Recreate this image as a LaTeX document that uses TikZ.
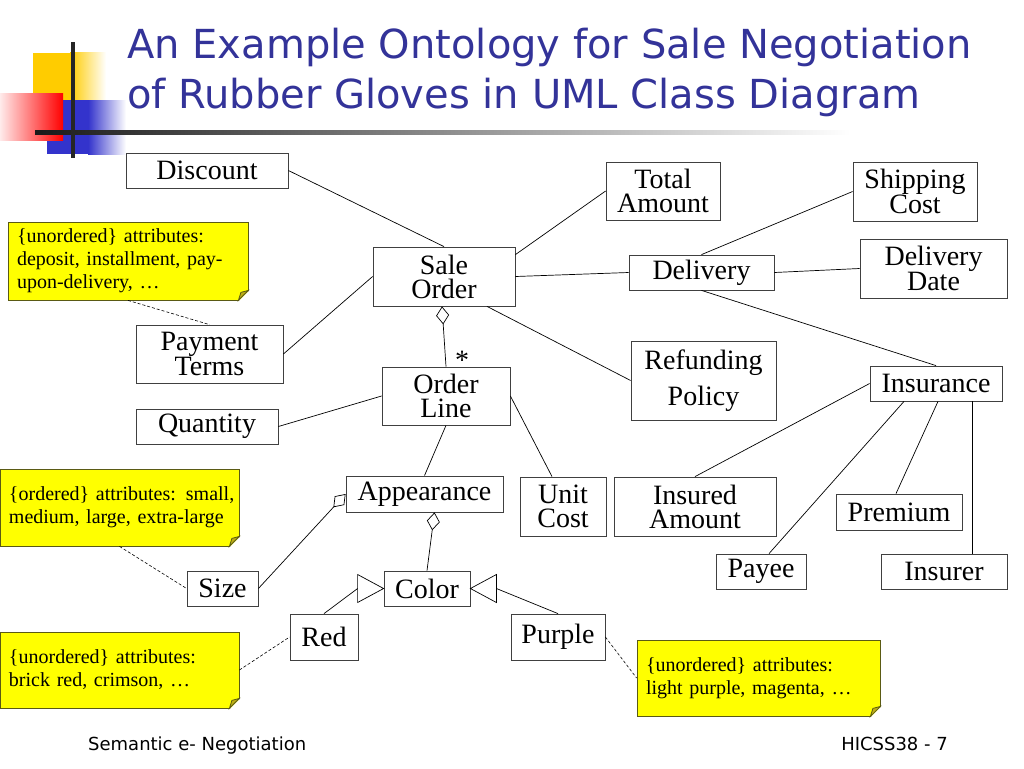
\documentclass[tikz,border=0pt]{standalone}
\usepackage{fontspec}
\setmainfont{Liberation Serif}
\newfontfamily\titlefont{DejaVu Sans}
\usetikzlibrary{arrows.meta}

\definecolor{titleblue}{RGB}{51,51,153}
\definecolor{noteyel}{RGB}{255,255,0}
\definecolor{notebrd}{RGB}{90,90,20}
\definecolor{notefold}{RGB}{190,175,20}
\definecolor{logoyel}{RGB}{255,204,0}
\definecolor{logoblue}{RGB}{51,51,204}

\begin{document}
\begin{tikzpicture}[x=1pt,y=-1pt,
  cls/.style={draw=black!75,line width=0.8pt,inner sep=0pt,align=center,font=\fontsize{28}{24}\selectfont},
  note/.style={draw=notebrd,fill=noteyel,line width=0.8pt,inner xsep=9pt,inner ysep=0pt,align=left,font=\fontsize{20}{23}\selectfont},
  titletext/.style={text=titleblue,inner sep=0pt,font=\titlefont\fontsize{40}{48}\selectfont},
  foot/.style={inner sep=0pt,font=\titlefont\fontsize{18}{20}\selectfont},
  link/.style={line width=0.7pt},
  dep/.style={line width=0.6pt,dash pattern=on 3pt off 2pt},
  aggr/.style={{Diamond[open,length=18pt,width=13pt]}-,line width=0.7pt},
  gen/.style={draw,fill=white,line width=0.7pt}]
% page
\fill[white] (0,0) rectangle (1024,768);
\useasboundingbox (0,0) rectangle (1024,768);

% logo
\fill[logoyel] (33,53) rectangle (70,102);
\shade[left color=logoyel,right color=white] (70,53) rectangle (106,102);
\fill[logoblue] (47,100) rectangle (88,154);
\shade[left color=logoblue,right color=white] (88,100) rectangle (126,154);
\shade[left color=red!8,right color=red] (0,93) rectangle (63,140);
\shade[left color=black!90,right color=white] (35,130) rectangle (850,134);
\fill[black!85] (71,42) rectangle (75,158);

% title
\node[titletext,anchor=base west] (title1) at (127,59) {An Example Ontology for Sale Negotiation};
\node[titletext,anchor=base west] (title2) at (127,108) {of Rubber Gloves in UML Class Diagram};

% classes
\node[cls,minimum width=162pt,minimum height=35pt] (discount) at (207,170.5) {Discount};
\node[cls,minimum width=114pt,minimum height=58pt] (totalamount) at (663,191) {Total\\Amount};
\node[cls,minimum width=124pt,minimum height=59pt] (shipping) at (915,191.5) {Shipping\\Cost};
\node[cls,minimum width=142pt,minimum height=59pt] (saleorder) at (444,276.5) {Sale\\Order};
\node[cls,minimum width=145pt,minimum height=35pt] (delivery) at (701.5,272.5) {Delivery};
\node[cls,minimum width=147pt,minimum height=59pt] (deliverydate) at (933.5,268.5) {Delivery\\Date};
\node[cls,minimum width=147pt,minimum height=58pt] (paymentterms) at (209.5,354) {Payment\\Terms};
\node[cls,minimum width=128pt,minimum height=58pt] (orderline) at (446,396) {Order\\Line};
\node[cls,minimum width=145pt,minimum height=79pt] (refunding) at (703.5,380.5) {Refunding\\[10pt]Policy};
\node[cls,minimum width=132pt,minimum height=35pt] (insurance) at (936,383.5) {Insurance};
\node[cls,minimum width=142pt,minimum height=35pt] (quantity) at (207,426.5) {Quantity};
\node[cls,minimum width=157pt,minimum height=36pt] (appearance) at (424.5,494) {Appearance};
\node[cls,minimum width=86pt,minimum height=59pt] (unitcost) at (563,506.5) {Unit\\Cost};
\node[cls,minimum width=162pt,minimum height=59pt] (insuredamount) at (695,506.5) {Insured\\Amount};
\node[cls,minimum width=126pt,minimum height=36pt] (premium) at (899,512) {Premium};
\node[cls,minimum width=71pt,minimum height=35pt] (size) at (222.5,588.5) {Size};
\node[cls,minimum width=86pt,minimum height=35pt] (color) at (427,588.5) {Color};
\node[cls,minimum width=90pt,minimum height=35pt] (payee) at (761,571.5) {Payee};
\node[cls,minimum width=126pt,minimum height=35pt] (insurer) at (944,571.5) {Insurer};
\node[cls,minimum width=68pt,minimum height=46pt] (red) at (324,637) {Red};
\node[cls,minimum width=94pt,minimum height=46pt] (purple) at (558,637) {Purple};

% multiplicity
\node[inner sep=0pt,font=\fontsize{28}{28}\selectfont] (mult) at (462,360) {*};

% associations
\draw[link] (discount.east) -- (saleorder.north);
\draw[link] (totalamount.west) -- ([yshift=-8pt]saleorder.north east);
\draw[link] (saleorder.east) -- (delivery.west);
\draw[link] (delivery.north) -- (shipping.west);
\draw[link] (delivery.east) -- (deliverydate.west);
\draw[link] (delivery.south) -- (insurance.north);
\draw[link] ([xshift=43pt]saleorder.south) -- (refunding.west);
\draw[link] (saleorder.west) -- (paymentterms.east);
\draw[link] (quantity.east) -- (orderline.west);
\draw[link] (orderline.south) -- (appearance.north);
\draw[link] (orderline.east) -- ([xshift=-11pt]unitcost.north);
\draw[link] (insurance.west) -- (insuredamount.north);
\draw[link] ([xshift=-32pt]insurance.south) -- ([xshift=8pt]payee.north);
\draw[link] ([xshift=2pt]insurance.south) -- ([xshift=-3pt]premium.north);
\draw[link] ([xshift=36pt]insurance.south) -- ([xshift=28pt]insurer.north);

% aggregations
\draw[aggr] ([xshift=-2pt]saleorder.south) -- (orderline.north);
\draw[aggr] (appearance.west) -- (size.east);
\draw[aggr] ([xshift=10pt]appearance.south) -- (color.north);

% generalisations
\draw[gen] (color.west) -- ++(-26,-14) -- ++(0,28) -- cycle;
\coordinate (genl) at ([xshift=-26pt]color.west);
\draw[link] (red.north) -- (genl);
\draw[gen] (color.east) -- ++(26,-14) -- ++(0,28) -- cycle;
\coordinate (genr) at ([xshift=26pt]color.east);
\draw[link] (genr) -- (purple.north);

% notes
\node[note,text width=222pt,minimum height=78pt] (note1) at (128,261) {\{unordered\} attributes:\\deposit, installment, pay-\\upon-delivery, …};
\node[note,text width=221pt,minimum height=77pt] (note2) at (119.5,507.5) {\mbox{\{ordered\} attributes: small,}\\medium, large, extra-large};
\node[note,text width=221pt,minimum height=76pt] (note3) at (119.5,670) {\{unordered\} attributes:\\brick red, crimson, …};
\node[note,text width=225pt,minimum height=76pt] (note4) at (758.5,678) {\{unordered\} attributes:\\light purple, magenta, …};
\foreach \n in {note1,note2,note3,note4}{
  \fill[white] ([xshift=-10pt,yshift=-1pt]\n.south east) -- ([xshift=1pt,yshift=-1pt]\n.south east) -- ([xshift=1pt,yshift=10pt]\n.south east) -- cycle;
  \filldraw[draw=notebrd,fill=notefold,line width=0.8pt] ([xshift=-10pt]\n.south east) -- ([yshift=10pt]\n.south east) -- ([xshift=-7.5pt,yshift=8pt]\n.south east) -- cycle;
}

% note links
\draw[dep] (note1.south) -- (paymentterms.north);
\draw[dep] (note2.south) -- (size.west);
\draw[dep] (note3.east) -- (red.west);
\draw[dep] (purple.east) -- (note4.west);

% footer
\node[foot,anchor=base west] (footl) at (88,750) {Semantic e- Negotiation};
\node[foot,anchor=base east] (footr) at (948,750) {HICSS38 - 7};
\end{tikzpicture}
\end{document}
